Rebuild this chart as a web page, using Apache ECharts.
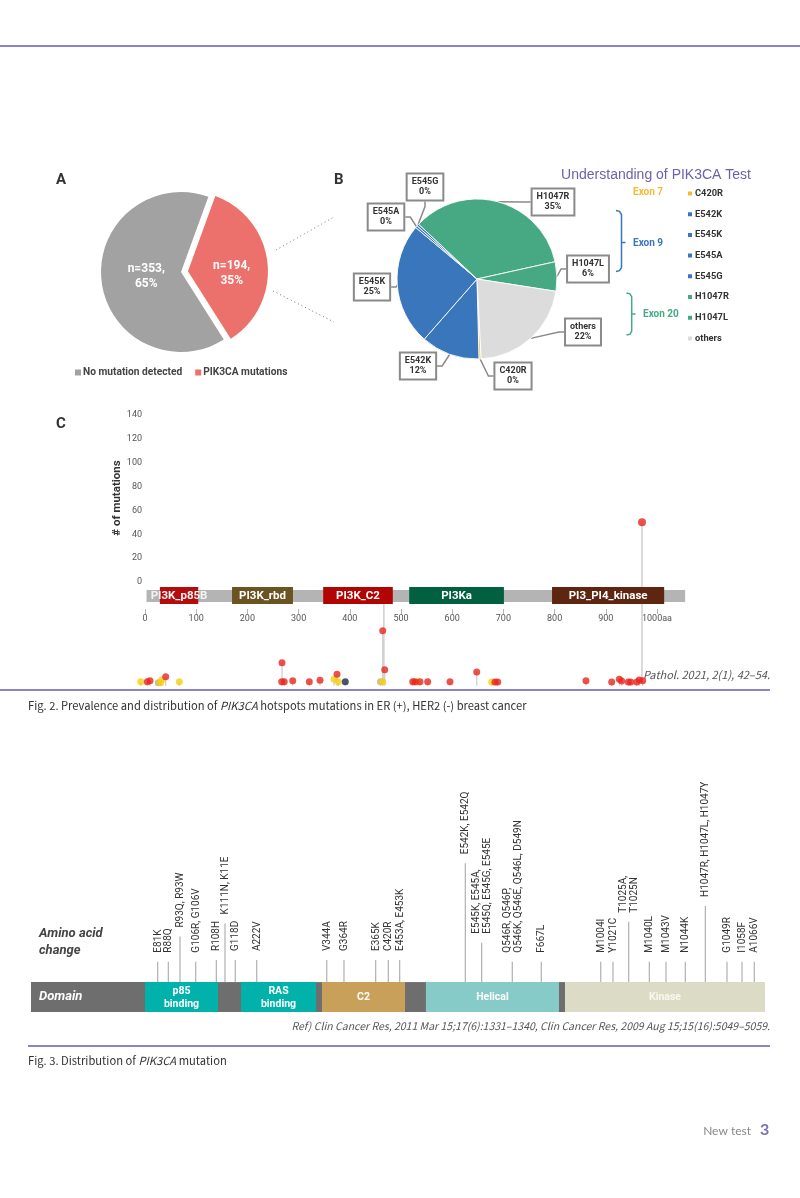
<!DOCTYPE html>
<html><head><meta charset="utf-8">
<script src="https://cdn.jsdelivr.net/npm/echarts@6/dist/echarts.min.js"></script>
<style>html,body{margin:0;padding:0;background:#fff}#c{width:800px;height:1198px}</style>
</head><body><div id="c"></div>
<script>
// ================= DATA =================
// Panel A
const pieALabels = ['PIK3CA mutations', 'No mutation detected'];
const pieACounts = [194, 353];
// Panel B
const pieBLabels = ['C420R', 'E542K', 'E545K', 'E545A', 'E545G', 'H1047R', 'H1047L', 'others'];
const pieBShares = [0.45, 12, 25, 0.45, 0.45, 35, 6, 22];
// Panel C (amino-acid position, # of mutations)
const cDomainNames = ['PI3K_p85B', 'PI3K_rbd', 'PI3K_C2', 'PI3Ka', 'PI3_PI4_kinase'];
const cDomainStart = [29, 170, 348, 516, 795];
const cDomainEnd = [104, 289, 484, 701, 1014];
const cProteinStart = 3;
const cProteinEnd = 1055;
const cMainHotspot = [[970.7, 50]];
const cLongSticks = [[970.7, 50, -82.5], [466.5, -12, -84]];
const cRedDots = [[4.5,-83.6],[9.8,-82.7],[40.4,-79.4],[267.6,-67.6],[267,-83.6],[272,-83.6],[288.5,-82.7],[320.9,-83.6],[341.8,-82.4],[375,-77.4],[464.3,-40.8],[468.2,-73.5],[522.9,-83.6],[527.3,-83.6],[537.1,-83.6],[552.1,-83.6],[595.7,-83.6],[647.9,-75.4],[683.6,-83.8],[688.9,-83.8],[861.3,-82.7],[911.5,-83.8],[926.4,-81.6],[931,-83],[944,-83.8],[948.6,-83.8],[960.4,-83.8],[965.4,-82.1],[972,-82.7]];
const cYellowDots = [[-8.4,-83.6],[30.7,-84.4],[32.6,-82.1],[67,-83.6],[369.1,-81.6],[377.5,-83.6],[464.3,-83.6],[531.8,-83.6],[677.1,-83.8]];
const cNavyDots = [[391.2,-83.6]];
const cTanDots = [[26,-84.4],[460,-83.6]];
const cStemBase = -87;
// Fig 3 (schematic position 0-1000 along the domain bar, stick height)
const f3DomainNames = ['', 'p85\nbinding', '', 'RAS\nbinding', '', 'C2', '', 'Helical', '', 'Kinase'];
const f3DomainStart = [0, 155.3, 254.8, 286.1, 388.3, 396.5, 509.5, 538.1, 719.3, 727.5];
const f3DomainEnd = [155.3, 254.8, 286.1, 388.3, 396.5, 509.5, 538.1, 719.3, 727.5, 1000];
const f3BarHeight = 12.9;
const f3Mutations = ['E81K','R88Q','R93Q, R93W','G106R, G106V','R108H','K111N, K11E','G118D','A222V','V344A','G364R','E365K','C420R','E453A, E453K','E542K, E542Q','E545K, E545A,\nE545Q, E545G, E545E','Q546R, Q546P,\nQ546K, Q546E, Q546L, D549N','F667L','M1004I','Y1021C','T1025A,\nT1025N','M1040L','M1043V','N1044K','H1047R, H1047L, H1047Y','G1049R','I1058F','A1066V'];
const f3Pos = [172.6,187.1,203,224.4,252.5,264.3,278.3,307.5,402.9,426.4,469.6,486.8,502.3,591.7,614,655.7,695.2,776.2,792.9,814.3,842.4,865.1,891.4,918.7,948.2,968.7,985.4];
const f3Height = [21.7,21.7,32.5,21.7,22.4,38.2,22.4,22.4,22.4,22.4,22.4,22.4,22.4,64.1,29.9,21.7,21.7,21.7,21.7,38.9,21.7,21.7,21.7,45.7,21.7,21.7,21.7];

// ================= STYLE / LAYOUT =================
const FONT = 'Roboto, "Noto Sans", sans-serif';
const CAP = '"Noto Sans CJK KR", "Noto Sans", sans-serif';
const pieAColors = ['#ec706c', '#a2a2a2'];
const pieBColors = ['#f5b935', '#3a76bc', '#3a76bc', '#3a76bc', '#3a76bc', '#46a983', '#46a983', '#dbdcdb'];
const pieBLabelPos = [[513,376],[418,366],[372,287],[386,217],[425,187],[553,202],[588,269],[583,332]];
const cDomainColors = ['#b40c0c', '#6b5322', '#b30404', '#00603f', '#5e2611'];
const f3DomainColors = ['#6e6e6e', '#00b2a9', '#6e6e6e', '#00b2a9', '#6e6e6e', '#c9a05a', '#6e6e6e', '#86cbc8', '#6e6e6e', '#dcdcc6'];
const PURPLE = '#8c84c6';

function txt(x, y, text, st) {
  return { type: 'text', x: x, y: y, silent: true,
    style: Object.assign({ text: text, fill: '#333', fontSize: 11, fontFamily: FONT, align: 'left', verticalAlign: 'middle' }, st || {}) };
}
function line(x1, y1, x2, y2, st) {
  return { type: 'line', silent: true, shape: { x1: x1, y1: y1, x2: x2, y2: y2 }, style: Object.assign({ stroke: PURPLE, lineWidth: 2 }, st || {}) };
}
function poly(points, color) {
  return { type: 'polyline', silent: true, shape: { points: points }, style: { stroke: color, lineWidth: 1.5, fill: null } };
}

const allDots = cRedDots.concat(cYellowDots, cNavyDots, cTanDots);

const chart = echarts.init(document.getElementById('c'), null, { width: 800, height: 1198 });

const option = {
  animation: false,
  backgroundColor: '#ffffff',
  grid: [
    { left: 145, top: 415, width: 563.2, height: 286.3 },
    { left: 145, top: 560, width: 512, height: 49 },
    { left: 31, top: 780, width: 734, height: 232 }
  ],
  xAxis: [
    { gridIndex: 0, type: 'value', min: 0, max: 1100, show: false },
    { gridIndex: 1, type: 'value', min: 0, max: 1000, interval: 100,
      axisLine: { show: false }, splitLine: { show: false },
      axisTick: { show: true, length: 5, lineStyle: { color: '#b5b5b5' } },
      axisLabel: { fontSize: 9, color: '#555', margin: 5, fontFamily: FONT, formatter: v => v === 1000 ? '1000aa' : String(v) } },
    { gridIndex: 2, type: 'value', min: 0, max: 1000, show: false }
  ],
  yAxis: [
    { gridIndex: 0, type: 'value', min: -100, max: 140, interval: 20,
      axisLine: { show: false }, axisTick: { show: false }, splitLine: { show: false },
      axisLabel: { fontSize: 9, color: '#555', margin: 3, fontFamily: FONT, formatter: v => v >= 0 ? String(v) : '' } },
    { gridIndex: 1, type: 'value', min: 0, max: 1, show: false },
    { gridIndex: 2, type: 'value', min: 0, max: 100, show: false }
  ],
  legend: [
    { data: ['No mutation detected', 'PIK3CA mutations'], left: 75, top: 367.5, padding: 0, icon: 'rect', itemWidth: 6, itemHeight: 6, itemGap: 13,
      selectedMode: false, textStyle: { fontSize: 10.2, fontWeight: 'bold', color: '#444', fontFamily: FONT, padding: [0, 0, 0, -3] } },
    { data: pieBLabels, orient: 'vertical', left: 686, top: 188, padding: 0, icon: 'rect', itemWidth: 6, itemHeight: 6, itemGap: 9.7,
      selectedMode: false, textStyle: { fontSize: 9.3, fontWeight: 'bold', color: '#333', lineHeight: 11, fontFamily: FONT, padding: [0, 0, 0, -3] } }
  ],
  series: [
    { type: 'pie', name: 'A', center: [181, 272], radius: 80, startAngle: 70, clockwise: true,
      selectedMode: 'single', selectedOffset: 7, avoidLabelOverlap: false, emphasis: { disabled: true },
      data: pieALabels.map((n, i) => ({ name: n, value: pieACounts[i], selected: i === 0, itemStyle: { color: pieAColors[i] } })),
      label: { show: true, position: 'inside', color: '#fff', fontWeight: 'bold', fontSize: 12, lineHeight: 15.5, fontFamily: FONT,
        formatter: p => 'n=' + p.value + ',\n' + Math.round(p.percent) + '%' },
      labelLayout: p => (p.dataIndex === 1 ? { dx: 8 } : { dy: 7, dx: 1 }),
      labelLine: { show: false } },
    { type: 'pie', name: 'B', center: [477, 279], radius: 80, startAngle: 273, clockwise: true,
      avoidLabelOverlap: false, emphasis: { disabled: true },
      itemStyle: { borderColor: '#fff', borderWidth: 0.9 },
      data: pieBLabels.map((n, i) => ({ name: n, value: pieBShares[i], itemStyle: { color: pieBColors[i] } })),
      label: { show: true, position: 'outside', formatter: p => p.name + '\n' + Math.round(p.percent) + '%',
        backgroundColor: '#fff', borderColor: '#8a8a8a', borderWidth: 2, padding: [3, 4, 2, 4],
        fontSize: 9, fontWeight: 'bold', color: '#333', lineHeight: 10, align: 'center', fontFamily: FONT },
      labelLine: { show: true, length: 5, length2: 5, lineStyle: { color: '#8a8a8a', width: 1.5 } },
      labelLayout: p => ({ x: pieBLabelPos[p.dataIndex][0], y: pieBLabelPos[p.dataIndex][1], align: 'center', verticalAlign: 'middle' }) },
    // Panel C stems
    { type: 'custom', xAxisIndex: 0, yAxisIndex: 0, z: 1, data: allDots, silent: true,
      renderItem: (p, api) => {
        const a = api.coord([api.value(0), api.value(1)]);
        const b = api.coord([api.value(0), cStemBase]);
        return { type: 'line', shape: { x1: a[0], y1: a[1], x2: b[0], y2: b[1] }, style: { stroke: '#cccccc', lineWidth: 1.2 } };
      } },
    { type: 'custom', xAxisIndex: 0, yAxisIndex: 0, z: 1, data: cLongSticks, silent: true,
      renderItem: (p, api) => {
        const a = api.coord([api.value(0), api.value(1)]);
        const b = api.coord([api.value(0), api.value(2)]);
        return { type: 'line', shape: { x1: a[0], y1: a[1], x2: b[0], y2: b[1] }, style: { stroke: '#cfcfcf', lineWidth: 1.5 } };
      } },
    // Panel C protein backbone
    { type: 'custom', xAxisIndex: 0, yAxisIndex: 0, z: 3, data: [[cProteinStart, cProteinEnd]], silent: true,
      renderItem: (p, api) => {
        const s = api.coord([api.value(0), -6.7]);
        const e = api.coord([api.value(1), -16.8]);
        return { type: 'rect', shape: { x: s[0], y: s[1], width: e[0] - s[0], height: e[1] - s[1] }, style: { fill: '#b4b4b4' } };
      } },
    // Panel C domains
    { type: 'custom', xAxisIndex: 0, yAxisIndex: 0, z: 4, silent: true,
      data: cDomainNames.map((n, i) => [cDomainStart[i], cDomainEnd[i], i]),
      renderItem: (p, api) => {
        const i = p.dataIndex;
        const s = api.coord([api.value(0), -4.2]);
        const e = api.coord([api.value(1), -18.4]);
        return { type: 'group', children: [
          { type: 'rect', shape: { x: s[0], y: s[1], width: e[0] - s[0], height: e[1] - s[1] }, style: { fill: cDomainColors[i] } },
          { type: 'text', x: (s[0] + e[0]) / 2, y: (s[1] + e[1]) / 2 + 0.5, style: { text: cDomainNames[i], fill: i === 0 ? '#f4f4f4' : '#fff', fontSize: 11.5, fontWeight: 'bold', fontFamily: FONT, align: 'center', verticalAlign: 'middle' } }
        ] };
      } },
    // Panel C dots
    { type: 'scatter', xAxisIndex: 0, yAxisIndex: 0, z: 5, clip: false, silent: true, symbolSize: 7, data: cTanDots, itemStyle: { color: '#c9b46a', opacity: 0.85 } },
    { type: 'scatter', xAxisIndex: 0, yAxisIndex: 0, z: 5, clip: false, silent: true, symbolSize: 7, data: cYellowDots, itemStyle: { color: '#f6d014' } },
    { type: 'scatter', xAxisIndex: 0, yAxisIndex: 0, z: 5, clip: false, silent: true, symbolSize: 7, data: cNavyDots, itemStyle: { color: '#1b2a4a' } },
    { type: 'scatter', xAxisIndex: 0, yAxisIndex: 0, z: 6, clip: false, silent: true, symbolSize: 7, data: cRedDots, itemStyle: { color: '#e8261e' } },
    { type: 'scatter', xAxisIndex: 0, yAxisIndex: 0, z: 6, clip: false, silent: true, symbolSize: 8, data: cMainHotspot, itemStyle: { color: '#e8261e' } },
    // Fig 3 domain bar
    { type: 'custom', xAxisIndex: 2, yAxisIndex: 2, z: 3, silent: true,
      data: f3DomainNames.map((n, i) => [f3DomainStart[i], f3DomainEnd[i], i]),
      renderItem: (p, api) => {
        const i = p.dataIndex;
        const s = api.coord([api.value(0), f3BarHeight]);
        const e = api.coord([api.value(1), 0]);
        return { type: 'group', children: [
          { type: 'rect', shape: { x: s[0], y: s[1], width: e[0] - s[0], height: e[1] - s[1] }, style: { fill: f3DomainColors[i] } },
          { type: 'text', x: (s[0] + e[0]) / 2, y: (s[1] + e[1]) / 2 + 0.5, style: { text: f3DomainNames[i], fill: i === 9 ? '#f7f7ee' : '#fff', fontSize: 10.5, fontWeight: 'bold', lineHeight: 13, fontFamily: FONT, align: 'center', verticalAlign: 'middle' } }
        ] };
      } },
    // Fig 3 mutation sticks + labels
    { type: 'custom', xAxisIndex: 2, yAxisIndex: 2, z: 2, silent: true,
      data: f3Mutations.map((m, i) => [f3Pos[i], f3Height[i], i]),
      renderItem: (p, api) => {
        const i = p.dataIndex;
        const top = api.coord([api.value(0), api.value(1)]);
        const bot = api.coord([api.value(0), f3BarHeight]);
        return { type: 'group', children: [
          { type: 'line', shape: { x1: top[0], y1: top[1], x2: bot[0], y2: bot[1] }, style: { stroke: '#b0b0b0', lineWidth: 1.2 } },
          { type: 'text', x: top[0] + 0.5, y: top[1] - 9, rotation: Math.PI / 2,
            style: { text: f3Mutations[i], fill: '#333', fontSize: 10, lineHeight: 11, fontFamily: FONT, align: 'left', verticalAlign: 'middle' } }
        ] };
      } }
  ],
  graphic: { elements: [
    line(0, 46, 800, 46, { stroke: PURPLE, lineWidth: 2 }),
    txt(56, 180, 'A', { fontSize: 15, fontWeight: 'bold', fill: '#333' }),
    txt(334, 180, 'B', { fontSize: 15, fontWeight: 'bold', fill: '#333' }),
    txt(56, 424, 'C', { fontSize: 15, fontWeight: 'bold', fill: '#333' }),
    line(276, 250, 334, 217, { stroke: '#777', lineWidth: 1, lineDash: [1, 3] }),
    line(273, 291, 334, 322, { stroke: '#777', lineWidth: 1, lineDash: [1, 3] }),
    txt(751, 175, 'Understanding of PIK3CA Test', { fontSize: 14, fill: '#6c62aa', align: 'right', fontFamily: '"Liberation Sans", Arial, sans-serif' }),
    txt(633, 192, 'Exon 7', { fontSize: 10, fontWeight: 'bold', fill: '#f5b935' }),
    txt(633, 243, 'Exon 9', { fontSize: 10, fontWeight: 'bold', fill: '#3a76bc' }),
    txt(643, 314, 'Exon 20', { fontSize: 10, fontWeight: 'bold', fill: '#46a983' }),
    poly([[616, 210.5], [619.5, 211.3], [621.5, 214.5], [621.5, 267.5], [619.5, 270.7], [616, 271.5]], '#3a76bc'),
    poly([[621.5, 242.5], [625.5, 242.5]], '#3a76bc'),
    poly([[626.5, 293], [630, 293.8], [631.7, 297], [631.7, 331], [630, 334.2], [626.5, 335]], '#46a983'),
    poly([[631.7, 314], [635.5, 314]], '#46a983'),
    { type: 'text', x: 117, y: 498, rotation: Math.PI / 2, silent: true,
      style: { text: '# of mutations', fontSize: 11.5, fontWeight: 'bold', fill: '#333', fontFamily: FONT, align: 'center', verticalAlign: 'middle' } },
    txt(770, 675, 'Pathol. 2021, 2(1), 42–54.', { fontSize: 11, fontStyle: 'italic', fill: '#555', align: 'right', fontFamily: CAP }),
    line(0, 690, 770, 690, { stroke: PURPLE, lineWidth: 2 }),
    txt(28, 706, 'Fig. 2. Prevalence and distribution of {i|PIK3CA} hotspots mutations in ER (+), HER2 (-) breast cancer',
      { fontSize: 11.2, fill: '#333', fontFamily: CAP, rich: { i: { fontStyle: 'italic', fontSize: 11.2, fill: '#333', fontFamily: CAP } } }),
    txt(39, 942, 'Amino acid\nchange', { fontSize: 13, fontWeight: 'bold', fontStyle: 'italic', fill: '#444', lineHeight: 17 }),
    { type: 'text', x: 39, y: 997, z: 100, silent: true, style: { text: 'Domain', fontSize: 13, fontWeight: 'bold', fontStyle: 'italic', fill: '#fff', fontFamily: FONT, align: 'left', verticalAlign: 'middle' } },
    txt(770, 1026, 'Ref) Clin Cancer Res, 2011 Mar 15;17(6):1331–1340, Clin Cancer Res, 2009 Aug 15;15(16):5049–5059.',
      { fontSize: 10.5, fontStyle: 'italic', fill: '#555', align: 'right', fontFamily: CAP }),
    line(28, 1046, 770, 1046, { stroke: PURPLE, lineWidth: 2 }),
    txt(28, 1061, 'Fig. 3. Distribution of {i|PIK3CA} mutation',
      { fontSize: 11.2, fill: '#333', fontFamily: CAP, rich: { i: { fontStyle: 'italic', fontSize: 11.2, fill: '#333', fontFamily: CAP } } }),
    txt(751, 1131, 'New test', { fontSize: 12, fill: '#888', align: 'right', fontFamily: 'Lato, sans-serif' }),
    txt(760, 1130, '3', { fontSize: 16, fontWeight: 'bold', fill: '#7a70b8', fontFamily: 'Lato, sans-serif' })
  ] }
};
chart.setOption(option);
</script></body></html>
